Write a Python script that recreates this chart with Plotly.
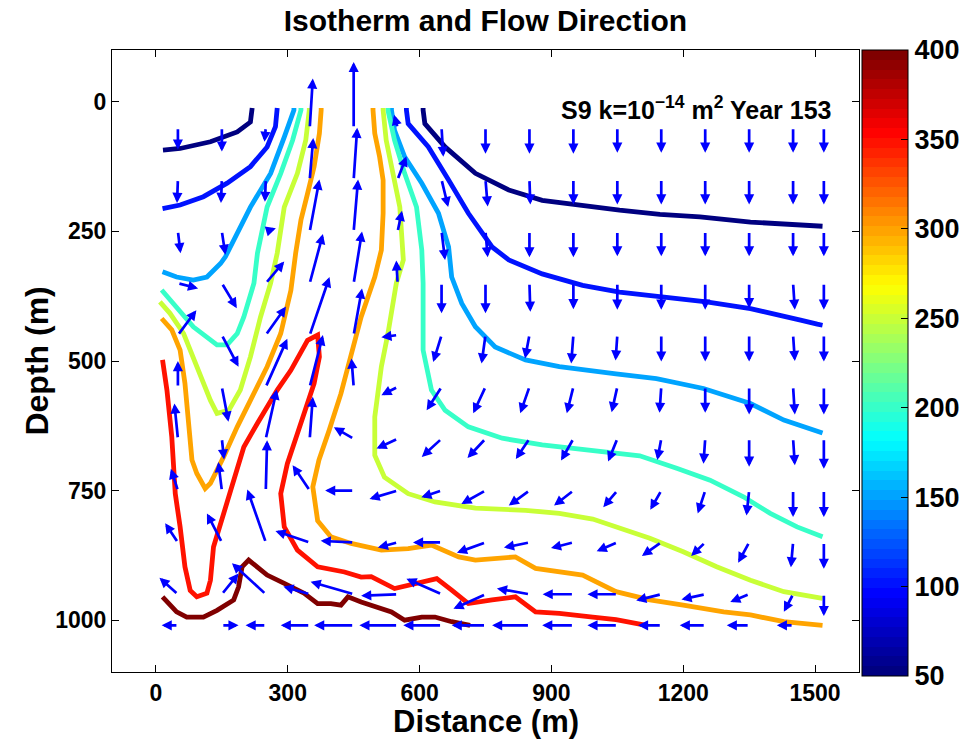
import plotly.graph_objects as go

# ---------------- data ----------------
levels = [50, 100, 150, 200, 250, 300, 350, 400]

t50_left_x = [16, 55, 124, 185, 215, 219, 219]
t50_left_y = [93, 90, 77, 58, 39, 16, 12]
t50_right_x = [608, 608, 612, 658, 727, 803, 879, 956, 1055, 1147, 1238, 1353, 1444, 1517]
t50_right_y = [12, 16, 42, 87, 138, 170, 190, 199, 209, 217, 222, 232, 237, 240]

t100_left_x = [15, 55, 108, 162, 215, 253, 272, 276, 276]
t100_left_y = [206, 199, 183, 157, 125, 87, 48, 16, 12]
t100_right_x = [570, 570, 574, 620, 666, 711, 765, 803, 879, 971, 1055, 1154, 1253, 1353, 1414, 1467, 1505, 1517]
t100_right_y = [12, 16, 42, 87, 151, 215, 280, 305, 332, 354, 367, 376, 386, 399, 412, 421, 429, 431]

t150_left_x = [314, 314, 292, 261, 215, 185, 158, 147, 116, 85, 47, 15]
t150_left_y = [12, 16, 68, 138, 203, 254, 299, 312, 338, 344, 338, 328]
t150_right_x = [536, 536, 543, 566, 605, 643, 666, 673, 696, 727, 772, 841, 918, 994, 1047, 1139, 1246, 1353, 1429, 1517]
t150_right_y = [12, 16, 55, 106, 157, 215, 280, 338, 389, 434, 473, 498, 511, 520, 525, 534, 553, 582, 614, 639]

t200_left_x = [330, 330, 311, 284, 253, 231, 223, 200, 185, 162, 139, 85, 13]
t200_left_y = [12, 16, 74, 138, 203, 292, 350, 415, 447, 469, 469, 434, 363]
t200_right_x = [528, 528, 543, 566, 593, 605, 608, 608, 627, 658, 711, 788, 879, 971, 1101, 1185, 1261, 1337, 1398, 1459, 1517]
t200_right_y = [12, 16, 74, 138, 203, 286, 350, 479, 556, 595, 627, 649, 662, 670, 683, 707, 730, 762, 794, 820, 839]

t250_left_x = [349, 349, 341, 322, 292, 276, 261, 238, 215, 192, 166, 139, 124, 93, 63, 32, 9]
t250_left_y = [12, 16, 74, 138, 203, 292, 350, 415, 492, 556, 595, 601, 576, 511, 447, 408, 386]
t250_right_x = [517, 517, 524, 540, 555, 563, 547, 528, 513, 498, 498, 520, 574, 635, 727, 841, 918, 994, 1047, 1124, 1200, 1276, 1353, 1429, 1517]
t250_right_y = [12, 16, 74, 138, 203, 305, 350, 447, 511, 608, 682, 724, 756, 772, 784, 788, 794, 805, 820, 842, 868, 897, 923, 945, 958]

t300_left_x = [376, 376, 372, 360, 345, 330, 318, 307, 284, 253, 215, 185, 154, 124, 112, 93, 82, 74, 66, 55, 36, 13]
t300_left_y = [12, 16, 61, 125, 177, 228, 292, 364, 447, 511, 576, 627, 685, 736, 746, 717, 691, 608, 543, 479, 440, 418]
t300_right_x = [494, 494, 498, 509, 517, 517, 513, 498, 467, 444, 421, 394, 371, 357, 368, 398, 444, 513, 574, 627, 689, 727, 818, 864, 918, 971, 1047, 1124, 1200, 1292, 1353, 1429, 1517]
t300_right_y = [12, 16, 61, 106, 151, 215, 286, 338, 415, 492, 563, 634, 691, 743, 808, 839, 852, 865, 862, 855, 878, 884, 878, 900, 907, 913, 945, 961, 971, 984, 990, 1003, 1010]

t350_x = [15, 25, 36, 44, 55, 66, 78, 93, 116, 124, 131, 154, 177, 200, 231, 276, 307, 345, 368, 372, 360, 341, 322, 299, 284, 292, 322, 368, 429, 467, 490, 543, 589, 639, 673, 711, 765, 818, 864, 918, 994, 1047, 1116]
t350_y = [498, 556, 646, 756, 820, 897, 943, 955, 948, 923, 859, 794, 730, 666, 620, 556, 518, 460, 450, 492, 543, 595, 640, 698, 756, 820, 865, 897, 907, 917, 916, 939, 929, 920, 942, 968, 961, 955, 984, 987, 994, 999, 1010]

t400_x = [15, 47, 70, 108, 139, 177, 188, 196, 211, 231, 253, 292, 337, 368, 398, 421, 437, 467, 498, 536, 566, 605, 635, 673, 715]
t400_y = [955, 984, 994, 994, 981, 961, 936, 897, 884, 897, 913, 929, 948, 968, 968, 971, 955, 965, 973, 984, 1000, 994, 994, 1003, 1010]

isotherms = [
    (50, t50_left_x, t50_left_y), (50, t50_right_x, t50_right_y),
    (100, t100_left_x, t100_left_y), (100, t100_right_x, t100_right_y),
    (150, t150_left_x, t150_left_y), (150, t150_right_x, t150_right_y),
    (200, t200_left_x, t200_left_y), (200, t200_right_x, t200_right_y),
    (250, t250_left_x, t250_left_y), (250, t250_right_x, t250_right_y),
    (300, t300_left_x, t300_left_y), (300, t300_right_x, t300_right_y),
    (350, t350_x, t350_y),
    (400, t400_x, t400_y),
]

# flow field: grid of arrow tails and components (m); v positive = downward
grid_x = [50, 150, 250, 350, 450, 550, 650, 750, 850, 950, 1050, 1150, 1250, 1350, 1450, 1520]
grid_y = [50, 150, 250, 350, 450, 550, 650, 750, 850, 950, 1010]

flow_u = [
    [0, 0, -3, 7, 0, -8, 4, 0, 0, 0, 0, 0, 0, 0, 0, 0],
    [-2, -2, -2, 8, 8, 20, 15, 5, 2, 0, 0, 0, 0, 0, 0, 0],
    [6, 8, 23, 22, 10, 10, 8, 5, 0, 0, 0, 0, 0, 0, 0, 0],
    [46, 34, 42, 30, 19, -3, 0, 0, 2, 0, 0, 0, 0, 0, 4, 0],
    [42, 38, 46, 45, 19, -37, -19, -9, -10, -5, -4, 0, 0, 0, 4, 0],
    [0, 15, 49, 30, -5, -37, -34, -28, -21, -15, -13, -4, 0, 0, 4, 0],
    [-8, 5, 25, 7, -45, -48, -45, -41, -31, -28, -21, -9, -4, 0, 4, 0],
    [-16, -8, 3, -39, -65, -64, -46, -55, -47, -44, -32, -25, -17, -6, 0, 0],
    [-29, -34, -42, -78, -75, -45, -65, -65, -58, -51, -47, -44, -32, -25, -5, 0],
    [-42, 38, -77, -60, -98, -83, -80, -73, -74, -70, -68, -57, -54, -43, -21, 0],
    [-37, 38, -46, -66, -90, -87, -87, -77, -85, -71, -68, -53, -58, -51, -37, 0],
]
flow_v = [
    [42, 46, 27, -95, -127, -25, 56, 50, 50, 50, 48, 48, 48, 48, 48, 48],
    [45, 45, 43, -80, -100, -45, 53, 52, 48, 48, 48, 48, 48, 48, 48, 48],
    [42, 45, -6, -100, -100, -40, 55, 50, 50, 50, 48, 48, 48, 48, 48, 48],
    [10, 48, -42, -95, -100, -44, 58, 58, 55, 50, 51, 51, 51, 48, 51, 51],
    [-48, 61, -55, -112, -90, 4, 52, 55, 45, 55, 49, 51, 51, 51, 50, 51],
    [-50, 67, -93, -100, -55, 16, 45, 51, 51, 51, 49, 50, 50, 53, 53, 53],
    [-68, 40, -95, -81, -22, 19, 35, 37, 39, 42, 44, 41, 48, 54, 51, 58],
    [-42, -55, -97, -49, 0, 16, 13, 26, 29, 29, 32, 37, 44, 48, 51, 51],
    [-37, -56, -102, -22, -3, 10, 0, 20, 10, 11, 17, 26, 26, 39, 48, 51],
    [-32, -40, -60, -15, -24, 3, -30, 28, -11, 0, 0, 12, 10, 15, 34, 42],
    [0, 0, 0, 0, 0, 0, 0, 0, 0, 0, 0, 0, 0, 0, 0, 0],
]

x_ticks = [0, 300, 600, 900, 1200, 1500]
y_ticks = [0, 250, 500, 750, 1000]
cbar_ticks = [50, 100, 150, 200, 250, 300, 350, 400]
t_min, t_max = 50, 400


# ---------------- styling helpers ----------------
def jet(t):
    t = min(max(t, 0.0), 1.0)
    r = min(max(1.5 - abs(4 * t - 3), 0), 1)
    g = min(max(1.5 - abs(4 * t - 2), 0), 1)
    b = min(max(1.5 - abs(4 * t - 1), 0), 1)
    return "rgb(%d,%d,%d)" % (round(r * 255), round(g * 255), round(b * 255))


n_steps = 64
jet_scale = []
for i in range(n_steps):
    c = jet(i / (n_steps - 1))
    jet_scale.append([i / n_steps, c])
    jet_scale.append([(i + 1) / n_steps, c])

FONT = "Liberation Sans, Arial, Helvetica, sans-serif"

fig = go.Figure()

for lev, xs, ys in isotherms:
    fig.add_trace(go.Scatter(
        x=xs, y=ys, mode="lines",
        line=dict(color=jet((lev - t_min) / (t_max - t_min)), width=4.8),
        showlegend=False, hoverinfo="skip",
    ))

# colorbar carrier
fig.add_trace(go.Scatter(
    x=[-5000], y=[-5000], mode="markers",
    marker=dict(
        size=1, color=[t_min], cmin=t_min, cmax=t_max, colorscale=jet_scale,
        showscale=True,
        colorbar=dict(
            x=1.004, xanchor="left", xpad=0, y=1.0, yanchor="top", ypad=0,
            thickness=46, thicknessmode="pixels", len=626, lenmode="pixels",
            tickvals=cbar_ticks, ticks="inside", ticklen=7, tickcolor="black",
            outlinecolor="black", outlinewidth=1,
            tickfont=dict(family=FONT, size=27, color="black", weight="bold"),
        ),
    ),
    showlegend=False, hoverinfo="skip",
))

annotations = []
for i, gy in enumerate(grid_y):
    for j, gx in enumerate(grid_x):
        u = flow_u[i][j]
        v = flow_v[i][j]
        if u == 0 and v == 0:
            continue
        annotations.append(dict(
            x=gx + u, y=gy + v, ax=gx, ay=gy,
            xref="x", yref="y", axref="x", ayref="y",
            showarrow=True, arrowhead=2, arrowsize=0.75, arrowwidth=2.7,
            arrowcolor="rgb(0,0,255)", standoff=0, startstandoff=0, text="",
        ))

annotations.append(dict(
    x=1540, y=12, xref="x", yref="y", xanchor="right", yanchor="middle",
    text="S9 k=10<sup>\u221214</sup> m<sup>2</sup> Year 153", showarrow=False,
    font=dict(family=FONT, size=25, color="black", weight="bold"),
))
annotations.append(dict(
    x=0.5, y=-0.08, xref="paper", yref="paper", xanchor="center", yanchor="middle",
    text="Distance (m)", showarrow=False,
    font=dict(family=FONT, size=31, color="black", weight="bold"),
))
annotations.append(dict(
    x=-0.101, y=0.5, xref="paper", yref="paper", xanchor="center", yanchor="middle",
    text="Depth (m)", showarrow=False, textangle=-90,
    font=dict(family=FONT, size=32, color="black", weight="bold"),
))

axis_common = dict(
    showline=True, linecolor="black", linewidth=1, mirror="allticks",
    ticks="inside", ticklen=7, tickcolor="black", showgrid=False, zeroline=False,
    tickfont=dict(family=FONT, size=23, color="black", weight="bold"),
)

fig.update_layout(
    width=967, height=744,
    margin=dict(l=112, r=108, t=50, b=72, autoexpand=False),
    paper_bgcolor="white", plot_bgcolor="white",
    title=dict(text="Isotherm and Flow Direction", x=0.502, xanchor="center",
               y=1 - 20 / 744, yanchor="middle", yref="container",
               font=dict(family=FONT, size=30, color="black", weight="bold")),
    xaxis=dict(range=[-100, 1600], tickvals=x_ticks, automargin=False, **axis_common),
    yaxis=dict(range=[1100, -100], tickvals=y_ticks, automargin=False, **axis_common),
    annotations=annotations,
)

fig.write_html("out.html")
